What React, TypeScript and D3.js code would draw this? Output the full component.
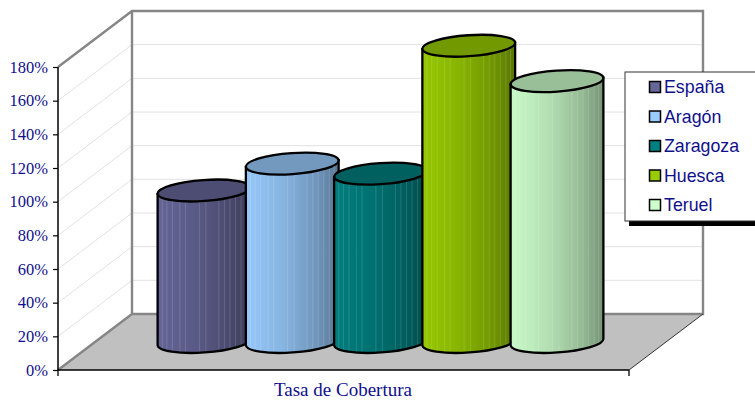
import {useEffect, useRef} from "react";
import * as d3 from "d3";

const regions = ["España", "Aragón", "Zaragoza", "Huesca", "Teruel"];
const coverage = [0.9, 1.06, 1.0, 1.76, 1.55];
const colors = ["#666699", "#99CCFF", "#008080", "#99CC00", "#CCFFCC"];
const yTicks = [0, 0.2, 0.4, 0.6, 0.8, 1, 1.2, 1.4, 1.6, 1.8];
const categoryLabel = "Tasa de Cobertura";
// light facet lines on the cylinders, as a fraction of the width
const facets = [0.05, 0.1, 0.16, 0.24, 0.3, 0.45, 0.52, 0.66, 0.72, 0.78, 0.84, 0.9, 0.95];

const navy = "#10108a";
const serif = "'Liberation Serif', serif";
const sans = "'Liberation Sans', sans-serif";

export default function App() {
    const ref = useRef<SVGSVGElement>(null);

    useEffect(() => {
        const svg = d3.select(ref.current);
        svg.selectAll("*").remove();

        const y = d3.scaleLinear().domain([0, 1.8]).range([370, 67]);
        const xFront = {left: 58, right: 629};
        const depth = {x: 74, y: -56};
        const cx = d3.scalePoint().domain(regions).range([204, 557]);
        const rx = 46.5;
        const ry = 10.5;
        const tilt = -4;
        const tiltRad = (tilt * Math.PI) / 180;

        const defs = svg.append("defs");

        // walls and floor
        svg
            .append("path")
            .attr("d", d3.line()([
                [xFront.left, y(0)],
                [xFront.left + depth.x, y(0) + depth.y],
                [xFront.right + depth.x, y(0) + depth.y],
                [xFront.right, y(0)],
            ]) + "Z")
            .attr("fill", "#C0C0C0");

        const grid = svg.append("g");
        yTicks.slice(1, -1).forEach((t) => {
            grid
                .append("path")
                .attr("d", d3.line()([
                    [xFront.left, y(t)],
                    [xFront.left + depth.x, y(t) + depth.y],
                    [xFront.right + depth.x, y(t) + depth.y],
                ]))
                .attr("fill", "none")
                .attr("stroke", "#E2E2E2")
                .attr("stroke-width", 1);
        });

        const top = y(1.8) + depth.y;
        const floorBack = y(0) + depth.y;
        const backLeft = xFront.left + depth.x;
        const backRight = xFront.right + depth.x;
        svg
            .append("path")
            .attr("d", `M${xFront.left},${y(1.8)}L${backLeft},${top}L${backRight},${top}L${backRight},${floorBack}L${backLeft},${floorBack}L${backLeft},${top}M${backLeft},${floorBack}L${xFront.left},${y(0)}`)
            .attr("fill", "none")
            .attr("stroke", "#868686")
            .attr("stroke-width", 2.4);

        svg
            .append("path")
            .attr("d", `M${backRight},${floorBack}L${xFront.right},${y(0)}`)
            .attr("stroke", "#333")
            .attr("stroke-width", 1);

        // value axis
        const axis = svg
            .append("g")
            .attr("transform", `translate(${xFront.left},0)`)
            .call(
                d3
                    .axisLeft(y)
                    .tickValues(yTicks)
                    .tickSize(5)
                    .tickPadding(5)
                    .tickFormat((v) => `${Math.round(+v * 100)}%`)
            );
        axis.select(".domain").attr("stroke", "#000").attr("stroke-width", 1.5).attr("d", `M0,${y(1.8)}V${y(0)}`);
        axis.selectAll("line").attr("stroke", "#000").attr("stroke-width", 1.2);
        axis
            .selectAll("text")
            .attr("fill", navy)
            .attr("font-size", 16.5)
            .attr("font-family", serif);

        // front edge
        svg
            .append("path")
            .attr("d", `M${xFront.left},${y(0)}H${xFront.right}M${xFront.left},${y(0)}v6M${xFront.right},${y(0)}v6`)
            .attr("fill", "none")
            .attr("stroke", "#000")
            .attr("stroke-width", 1.3);

        // cylinders, left to right so each one overlaps the previous
        const baseY = y(0) + depth.y / 2;
        const dxR = rx * Math.cos(tiltRad);
        const dyR = rx * Math.sin(tiltRad);

        regions.forEach((name, i) => {
            const c = cx(name) as number;
            const topY = y(coverage[i]) + depth.y / 2;
            const color = colors[i];
            const dark = d3.interpolateRgb(color, "#000");

            const grad = defs
                .append("linearGradient")
                .attr("id", `body-${i}`);
            [
                [0, dark(0.02)],
                [0.4, dark(0.12)],
                [0.75, dark(0.26)],
                [1, dark(0.42)],
            ].forEach(([offset, stop]) => {
                grad.append("stop").attr("offset", offset as number).attr("stop-color", stop as string);
            });

            const body =
                `M${c - dxR},${topY - dyR}` +
                `L${c - dxR},${baseY - dyR}` +
                `A${rx},${ry} ${tilt} 0 0 ${c + dxR},${baseY + dyR}` +
                `L${c + dxR},${topY + dyR}Z`;

            defs
                .append("clipPath")
                .attr("id", `clip-${i}`)
                .append("path")
                .attr("d", body);

            const g = svg.append("g");
            g.append("path").attr("d", body).attr("fill", `url(#body-${i})`);

            g
                .append("g")
                .attr("clip-path", `url(#clip-${i})`)
                .selectAll("line")
                .data(facets)
                .join("line")
                .attr("x1", (f) => c - dxR + f * 2 * dxR)
                .attr("x2", (f) => c - dxR + f * 2 * dxR)
                .attr("y1", topY - ry - 5)
                .attr("y2", baseY + ry + 5)
                .attr("stroke", "#fff")
                .attr("stroke-opacity", 0.14)
                .attr("stroke-width", 1);

            g
                .append("path")
                .attr("d", body)
                .attr("fill", "none")
                .attr("stroke", "#000")
                .attr("stroke-width", 2.3);

            g
                .append("ellipse")
                .attr("cx", c)
                .attr("cy", topY)
                .attr("rx", rx)
                .attr("ry", ry)
                .attr("transform", `rotate(${tilt} ${c} ${topY})`)
                .attr("fill", dark(0.25))
                .attr("stroke", "#000")
                .attr("stroke-width", 2.3);
        });

        // category label
        svg
            .append("text")
            .attr("x", 343)
            .attr("y", 395.5)
            .attr("text-anchor", "middle")
            .attr("fill", navy)
            .attr("font-size", 19)
            .attr("font-family", serif)
            .text(categoryLabel);

        // legend
        const legend = svg.append("g");
        legend.append("rect").attr("x", 629).attr("y", 76).attr("width", 130).attr("height", 150).attr("fill", "#000");
        legend
            .append("rect")
            .attr("x", 625)
            .attr("y", 72)
            .attr("width", 135)
            .attr("height", 149)
            .attr("fill", "#fff")
            .attr("stroke", "#333")
            .attr("stroke-width", 1);

        const legendY = d3.scalePoint().domain(regions).range([87, 205]);
        regions.forEach((name, i) => {
            const ly = legendY(name) as number;
            legend
                .append("rect")
                .attr("x", 649.5)
                .attr("y", ly - 5.5)
                .attr("width", 11)
                .attr("height", 11)
                .attr("fill", colors[i])
                .attr("stroke", "#000")
                .attr("stroke-width", 1.5);
            legend
                .append("text")
                .attr("x", 664)
                .attr("y", ly + 6)
                .attr("fill", navy)
                .attr("font-size", 17.8)
                .attr("font-family", sans)
                .text(name);
        });
    }, []);

    return (
        <svg
            ref={ref}
            width={755}
            height={400}
            style={{position: "absolute", left: 0, top: 0, background: "#fff"}}
        />
    );
}
